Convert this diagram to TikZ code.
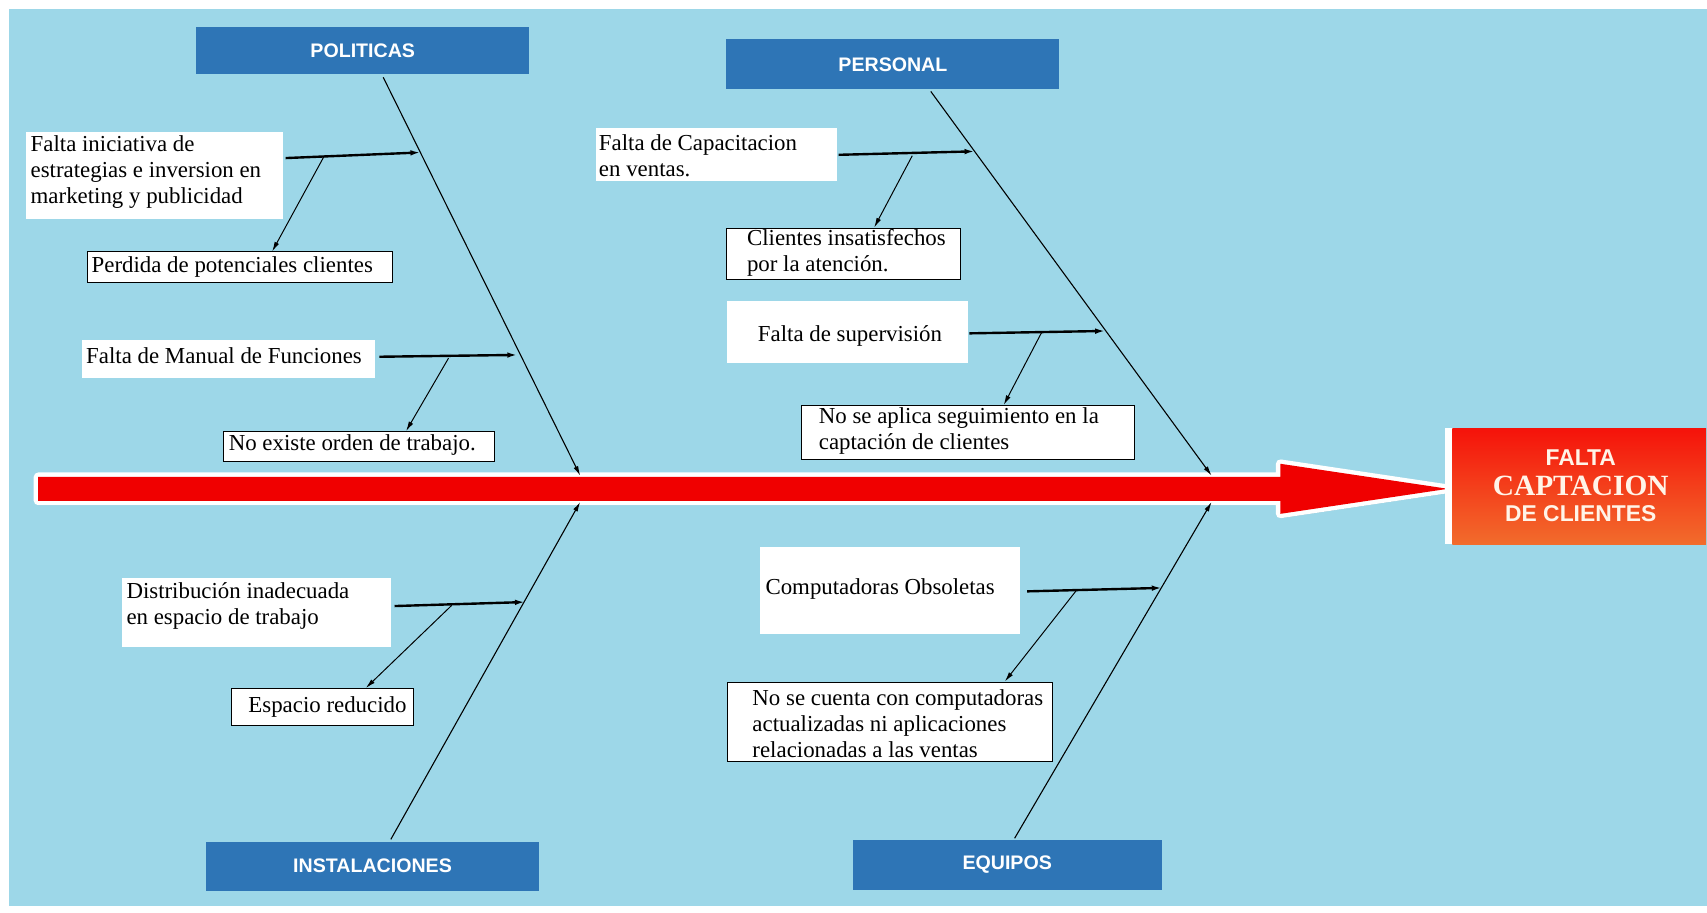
\documentclass[tikz,border=0pt]{standalone}
\usepackage{fontspec}
\setmainfont{Liberation Serif}
\newfontfamily\hdrfont{Liberation Sans}
\usetikzlibrary{arrows.meta,calc}
\definecolor{bgblue}{RGB}{157,215,232}
\definecolor{hdrblue}{RGB}{46,117,182}
\definecolor{spinered}{RGB}{240,0,0}
\definecolor{cream}{RGB}{255,244,232}
\definecolor{restop}{RGB}{245,18,10}
\definecolor{resbot}{RGB}{242,108,44}
\begin{document}
\begin{tikzpicture}[x=1pt,y=-1pt,
  hdr/.style={fill=hdrblue, text=white, font=\hdrfont\bfseries\fontsize{18}{20}\selectfont, inner sep=0pt},
  boxc/.style={fill=white, inner sep=0pt},
  boxe/.style={fill=white, draw=black, line width=0.9pt, inner sep=0pt},
  txt/.style={anchor=west, align=left, inner sep=0pt, font=\fontsize{21}{24}\selectfont},
  bone/.style={line width=1pt, -{Latex[length=9pt,width=4.5pt]}},
  subb/.style={line width=2.2pt, -{Latex[length=10pt,width=5pt]}},
  branch/.style={line width=0.9pt, -{Latex[length=9pt,width=4.5pt]}},
  restext/.style={text=cream, inner sep=0pt}
]
\useasboundingbox (0,0) rectangle (1568,838);
\fill[white] (0,0) rectangle (1568,838);
\fill[bgblue] (8,8) rectangle (1568,832);

% ---------- spine ----------
\coordinate (tip) at (1330,449);
\fill[black, opacity=0.18] (35,442) -- (1176,442) -- (1176,430) -- (1330,453) -- (1176,476) -- (1176,464) -- (35,464) -- cycle;
\draw[white, line width=8pt, line join=round, fill=white] (35,438) -- (1176,438) -- (1176,426) -- (tip) -- (1176,472) -- (1176,460) -- (35,460) -- cycle;
\fill[spinered] (35,438) -- (1176,438) -- (1176,426) -- (tip) -- (1176,472) -- (1176,460) -- (35,460) -- cycle;

% ---------- result ----------
\fill[white] (1327,393) rectangle (1335,500);
\node[minimum width=233pt, minimum height=107pt, inner sep=0pt, anchor=north west, top color=restop, bottom color=resbot, draw=none] (res) at (1334,393) {};
\node[restext, font=\hdrfont\bfseries\fontsize{21}{24}\selectfont] (res1) at (1452,420) {FALTA};
\node[restext, font=\bfseries\fontsize{27}{28}\selectfont] (res2) at (1452,446) {CAPTACION};
\node[restext, font=\hdrfont\bfseries\fontsize{21}{24}\selectfont] (res3) at (1452,472) {DE CLIENTES};

% ---------- headers ----------
\node[hdr, anchor=north west, minimum width=306pt, minimum height=43pt] (pol) at (180,25) {POLITICAS};
\node[hdr, anchor=north west, minimum width=306pt, minimum height=46pt] (per) at (667,36) {PERSONAL};
\node[hdr, anchor=north west, minimum width=306pt, minimum height=45pt] (ins) at (189,773) {INSTALACIONES};
\node[hdr, anchor=north west, minimum width=284pt, minimum height=46pt] (equ) at (783,771) {EQUIPOS};

% ---------- spine junctions ----------
\coordinate (jP) at (533,437);
\coordinate (jR) at (1113,437);
\coordinate (jI) at (533,461);
\coordinate (jE) at (1113,461);
\coordinate (polS) at (352,71);
\coordinate (perS) at (855,84);
\coordinate (insN) at (359,771);
\coordinate (equN) at (932,770);

\draw[bone] (polS) -- (jP);
\draw[bone] (perS) -- (jR);
\draw[bone] (insN) -- (jI);
\draw[bone] (equN) -- (jE);

% ---------- POLITICAS causes ----------
\node[boxc, anchor=north west, minimum width=236pt, minimum height=80pt] (c1box) at (24,121) {};
\node[txt] (c1) at (28,158) {Falta iniciativa de\\estrategias e inversion en\\marketing y publicidad};
\node[boxe, anchor=north west, minimum width=280pt, minimum height=28pt] (e1box) at (80,231) {};
\node[txt] (e1) at (84,245) {Perdida de potenciales clientes};
\coordinate (t1) at (387,140);
\coordinate (m1) at (298,143);
\draw[subb] ([yshift=16pt]c1box.east) ++(2,0) -- (t1);
\draw[branch] (m1) -- (e1box.north -| 250,0);

\node[boxc, anchor=north west, minimum width=269pt, minimum height=35pt] (c2box) at (75,312) {};
\node[txt] (c2) at (79,327) {Falta de Manual de Funciones};
\node[boxe, anchor=north west, minimum width=249pt, minimum height=27pt] (e2box) at (205,396) {};
\node[txt] (e2) at (210,409) {No existe orden de trabajo.};
\coordinate (t2) at (476,326);
\coordinate (m2) at (412,329);
\draw[subb] ([yshift=2pt]c2box.east) ++(4,0) -- (t2);
\draw[branch] (m2) -- (e2box.north -| 373,0);

% ---------- INSTALACIONES causes ----------
\node[boxc, anchor=north west, minimum width=247pt, minimum height=63pt] (c3box) at (112,531) {};
\node[txt] (c3) at (116,557) {Distribución inadecuada\\en espacio de trabajo};
\node[boxe, anchor=north west, minimum width=167pt, minimum height=34pt] (e3box) at (212,632) {};
\node[txt] (e3) at (228,649) {Espacio reducido};
\coordinate (t3) at (483,553);
\coordinate (m3) at (415,556);
\draw[subb] ([yshift=6pt]c3box.east) ++(3,0) -- (t3);
\draw[branch] (m3) -- (e3box.north -| 336,0);

% ---------- PERSONAL causes ----------
\node[boxc, anchor=north west, minimum width=222pt, minimum height=49pt] (c4box) at (547,117) {};
\node[txt] (c4) at (550,143) {Falta de Capacitacion\\en ventas.};
\node[boxe, anchor=north west, minimum width=215pt, minimum height=47pt] (e4box) at (667,209) {};
\node[txt] (e4) at (686,232) {Clientes insatisfechos\\por la atención.};
\coordinate (t4) at (896,139);
\coordinate (m4) at (838,143);
\draw[subb] ([yshift=-0.5pt]c4box.east) ++(1,0) -- (t4);
\draw[branch] (m4) -- (e4box.north -| 803,0);

\node[boxc, anchor=north west, minimum width=221pt, minimum height=57pt] (c5box) at (668,276) {};
\node[txt] (c5) at (696,309) {Falta de supervisión};
\node[boxe, anchor=north west, minimum width=306pt, minimum height=50pt] (e5box) at (736,372) {};
\node[txt] (e5) at (752,396) {No se aplica seguimiento en la\\captación de clientes};
\coordinate (t5) at (1016,304);
\coordinate (m5) at (957,305);
\draw[subb] ([yshift=-1.5pt]c5box.east) ++(1,0) -- (t5);
\draw[branch] (m5) -- (e5box.north -| 922,0);

% ---------- EQUIPOS causes ----------
\node[boxc, anchor=north west, minimum width=239pt, minimum height=80pt] (c6box) at (698,502) {};
\node[txt] (c6) at (703,541) {Computadoras Obsoletas};
\node[boxe, anchor=north west, minimum width=298pt, minimum height=73pt] (e6box) at (668,626) {};
\node[txt] (e6) at (691,665) {No se cuenta con computadoras\\actualizadas ni aplicaciones\\relacionadas a las ventas};
\coordinate (t6) at (1068,540);
\coordinate (m6) at (989,542);
\draw[subb] ([yshift=-1pt]c6box.east) ++(6,0) -- (t6);
\draw[branch] (m6) -- (e6box.north -| 923,0);
\end{tikzpicture}
\end{document}
